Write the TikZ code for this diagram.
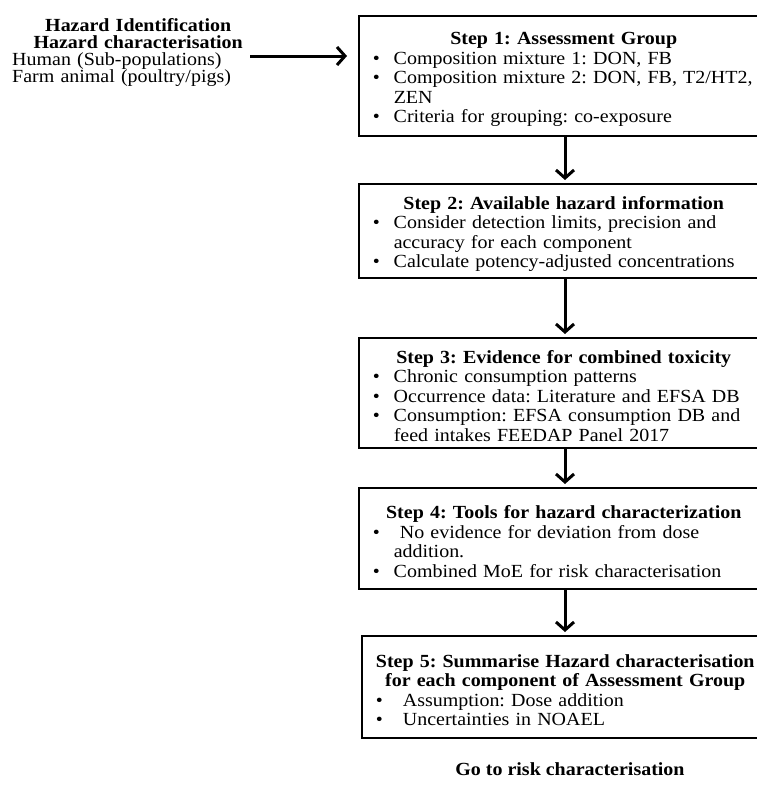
\documentclass[tikz,border=0pt]{standalone}
\usepackage{fontspec}
\setmainfont{Liberation Serif}[FakeStretch=1.08]
\usetikzlibrary{arrows.meta}
\frenchspacing
\newcommand\nl{\nobreak\hfil\break}
\newcommand\itm[1]{\par\noindent\hangindent=21pt\hangafter=1\makebox[21pt][l]{\textbullet}#1\par}
\newcommand\ttl[1]{\par\noindent\makebox[\linewidth][c]{\bfseries #1}\par}
\begin{document}
\begin{tikzpicture}[x=1pt,y=-1pt,
  txt/.style={font=\fontsize{18.5}{19.5}\selectfont\frenchspacing, inner sep=0pt},
  box/.style={draw, line width=1.5pt, anchor=north west, text width=382pt,
    inner xsep=14pt, inner ysep=0pt, align=left, minimum width=410pt,
    font=\fontsize{18.5}{19.5}\selectfont\frenchspacing},
  flow/.style={line width=3pt, -{Straight Barb[length=8pt,width=18pt]}, shorten >=3pt},
  ]
\clip (0,0) rectangle (757,787);
\fill[white] (0,0) rectangle (757,787);

% left text
\node[txt, anchor=north west, text width=252pt, align=left,
  font=\fontsize{18.5}{17}\selectfont\frenchspacing] (haz) at (12,14) {%
\ttl{Hazard Identification}
\ttl{Hazard characterisation}
\noindent\mbox{Human (Sub-populations)}\nl\mbox{Farm animal (poultry/pigs)}};

% boxes
\node[box, minimum height=120pt] (s1) at (358,15) {%
\ttl{Step 1: Assessment Group}
\itm{\mbox{Composition mixture 1: DON, FB}}
\itm{\mbox{Composition mixture 2: DON, FB, T2/HT2,}\nl\mbox{ZEN}}
\itm{\mbox{Criteria for grouping: co-exposure}}};

\node[box, minimum height=94pt] (s2) at (358,183) {%
\ttl{Step 2: Available hazard information}
\itm{\mbox{Consider detection limits, precision and}\nl\mbox{accuracy for each component}}
\itm{\mbox{Calculate potency-adjusted concentrations}}};

\node[box, minimum height=110pt] (s3) at (358,337) {%
\ttl{Step 3: Evidence for combined toxicity}
\itm{\mbox{Chronic consumption patterns}}
\itm{\mbox{Occurrence data: Literature and EFSA DB}}
\itm{\mbox{Consumption: EFSA consumption DB and}\nl\mbox{feed intakes FEEDAP Panel 2017}}};

\node[box, minimum height=101pt] (s4) at (358,487) {%
\ttl{Step 4: Tools for hazard characterization}
\itm{\mbox{\ No evidence for deviation from dose}\nl\mbox{addition.}}
\itm{\mbox{Combined MoE for risk characterisation}}};

\node[box, minimum height=102pt, text width=379pt, minimum width=407pt] (s5) at (361,635) {%
\ttl{Step 5: Summarise Hazard characterisation}
\ttl{for each component of Assessment Group}
\itm{\mbox{\ Assumption: Dose addition}}
\itm{\mbox{\ Uncertainties in NOAEL}}};

\node[txt, font=\fontsize{18.5}{19.5}\selectfont\bfseries] (go) at (570,769) {Go to risk characterisation};

% connectors
\coordinate (ax) at (565,0);
\coordinate (hs) at (250,56);
\draw[flow, shorten >=11pt] (hs) -- (hs -| s1.west);
\draw[flow] (s1.south -| ax) -- (s2.north -| ax);
\draw[flow] (s2.south -| ax) -- (s3.north -| ax);
\draw[flow] (s3.south -| ax) -- (s4.north -| ax);
\draw[flow] (s4.south -| ax) -- (s5.north -| ax);
\end{tikzpicture}
\end{document}
